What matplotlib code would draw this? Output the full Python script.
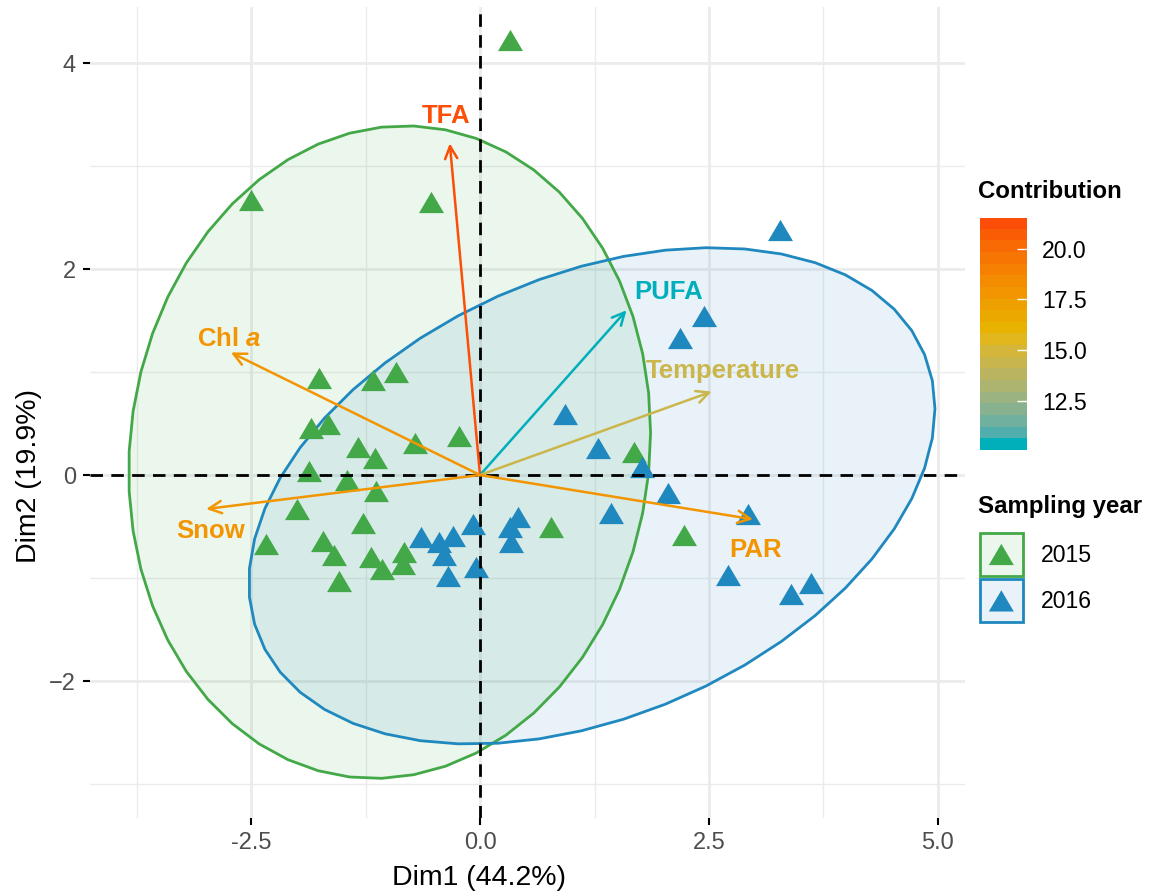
import numpy as np
import matplotlib
matplotlib.use("Agg")
import matplotlib.pyplot as plt
from matplotlib.colors import ListedColormap, Normalize, to_rgb, to_rgba
from matplotlib.patches import Polygon, Patch
from matplotlib.legend_handler import HandlerTuple, HandlerPatch
from matplotlib.ticker import FormatStrFormatter

plt.rcParams['font.family'] = ['Liberation Sans', 'DejaVu Sans']
plt.rcParams['mathtext.fontset'] = 'custom'
plt.rcParams['mathtext.it'] = 'Liberation Sans:italic:bold'
plt.rcParams['mathtext.rm'] = 'Liberation Sans:bold'

# individuals (PCA scores), by sampling year
green_x = [0.33, -2.50, -0.53, -1.76, -1.17, -0.92, -1.84, -1.66, -1.33, -1.15,
           -0.71, -0.23, -1.87, -1.45, -1.14, -2.00, -1.28, -2.34, -1.71, -1.59,
           -1.54, -1.19, -1.07, -0.83, -0.84, 1.68, 0.78, 2.23]
green_y = [4.22, 2.67, 2.65, 0.94, 0.92, 1.00, 0.46, 0.50, 0.27, 0.17,
           0.31, 0.38, 0.04, -0.05, -0.16, -0.33, -0.47, -0.67, -0.64, -0.78,
           -1.03, -0.80, -0.91, -0.75, -0.86, 0.22, -0.50, -0.58]
blue_x = [-0.64, -0.45, -0.29, -0.39, -0.35, -0.08, -0.04, 0.33, 0.41, 0.34, 1.43,
          2.05, 0.93, 1.29, 1.77, 2.93, 2.71, 3.40, 3.61, 2.18, 2.45, 3.28]
blue_y = [-0.60, -0.65, -0.59, -0.78, -0.98, -0.48, -0.89, -0.50, -0.41, -0.65, -0.37,
          -0.17, 0.59, 0.26, 0.08, -0.38, -0.97, -1.16, -1.05, 1.33, 1.54, 2.38]
years = ['2015', '2016']

# variables (arrows) and their contribution
var_names = ['TFA', 'PUFA', 'Temperature', 'PAR', 'Snow', 'Chl $a$']
var_x = [-0.33, 1.60, 2.53, 2.98, -2.99, -2.72]
var_y = [3.22, 1.60, 0.81, -0.43, -0.33, 1.19]
var_contrib = [21.5, 10.1, 14.4, 18.0, 18.0, 18.0]

# label offsets (points) from the arrow tips, as placed by repel
label_off = [(-3, 15), (30, 8), (8, 10), (2, -27), (3, -21), (-1.5, 5)]

grad_cols = ['#00AFBB', '#E7B800', '#FC4E07']


# ggplot interpolates gradients in CIELAB, do the same here
WHITE = np.array([0.95047, 1.0, 1.08883])
M = np.array([[0.4124, 0.3576, 0.1805], [0.2126, 0.7152, 0.0722], [0.0193, 0.1192, 0.9505]])


def to_lab(c):
    rgb = np.array(to_rgb(c))
    lin = np.where(rgb <= 0.04045, rgb / 12.92, ((rgb + 0.055) / 1.055) ** 2.4)
    t = M @ lin / WHITE
    d = 6 / 29
    f = np.where(t > d ** 3, np.cbrt(t), t / (3 * d * d) + 4 / 29)
    return np.array([116 * f[1] - 16, 500 * (f[0] - f[1]), 200 * (f[1] - f[2])])


def from_lab(lab):
    L, a, b = lab
    fy = (L + 16) / 116
    f = np.array([fy + a / 500, fy, fy - b / 200])
    d = 6 / 29
    t = np.where(f > d, f ** 3, 3 * d * d * (f - 4 / 29)) * WHITE
    lin = np.linalg.solve(M, t)
    lin = np.clip(lin, 0, 1)
    rgb = np.where(lin <= 0.0031308, lin * 12.92, 1.055 * lin ** (1 / 2.4) - 0.055)
    return np.clip(rgb, 0, 1)


labs = [to_lab(c) for c in grad_cols]
ramp = []
for t in np.linspace(0, 1, 256):
    seg = min(int(t * 2), 1)
    u = t * 2 - seg
    ramp.append(from_lab(labs[seg] * (1 - u) + labs[seg + 1] * u))
cmap = ListedColormap(ramp)

W, H = 1149, 896
fig = plt.figure(figsize=(W / 100, H / 100), dpi=100)
ax = fig.add_axes([90 / W, (H - 818) / H, 875 / W, 811 / H])

cols = ['#43A847', '#1F88BF']
tri = [(-1, -0.85), (1, -0.85), (0, 0.85), (-1, -0.85)]


def qf2(p, d):
    # quantile of F(2, d), closed form
    return d / 2.0 * ((1 - p) ** (-2.0 / d) - 1)


def norm_ellipse(x, y, level=0.95, segments=51):
    x = np.asarray(x)
    y = np.asarray(y)
    n = len(x)
    center = np.array([x.mean(), y.mean()])
    L = np.linalg.cholesky(np.cov(x, y))
    radius = np.sqrt(2 * qf2(level, n - 1))
    a = np.linspace(0, 2 * np.pi, segments + 1)
    circ = np.column_stack([np.cos(a), np.sin(a)])
    return center + radius * circ @ L.T


for gx, gy, c in [(green_x, green_y, cols[0]), (blue_x, blue_y, cols[1])]:
    pts = norm_ellipse(gx, gy)
    ax.add_patch(Polygon(pts, closed=True, facecolor=c, alpha=0.1, edgecolor='none', zorder=2))
    ax.add_patch(Polygon(pts, closed=True, facecolor='none', edgecolor=c, lw=2, zorder=2.1))
    ax.plot(gx, gy, ls='', marker=tri, ms=18, color=c, mec='none', zorder=3)

ax.axhline(0, color='black', lw=2, ls=(0, (4.5, 3)), zorder=4)
ax.axvline(0, color='black', lw=2, ls=(0, (4.5, 3)), zorder=4)

norm = Normalize(min(var_contrib), max(var_contrib))

for name, vx, vy, ct, off in zip(var_names, var_x, var_y, var_contrib, label_off):
    c = cmap(norm(ct))
    ax.annotate('', xy=(vx, vy), xytext=(0, 0),
                arrowprops=dict(arrowstyle='->,head_length=0.45,head_width=0.22', color=c,
                                lw=1.8, shrinkA=0, shrinkB=0, mutation_scale=20), zorder=5)
    ax.annotate(name, xy=(vx, vy), xytext=off, textcoords='offset points',
                ha='center', va='baseline', fontsize=18.5, fontweight='bold', color=c, zorder=6)

ax.set_xlim(-4.258, 5.295)
ax.set_ylim(-3.33, 4.544)
ax.set_xticks([-2.5, 0, 2.5, 5.0])
ax.set_xticks([-3.75, -1.25, 1.25, 3.75], minor=True)
ax.set_yticks([-2, 0, 2, 4])
ax.set_yticks([-3, -1, 1, 3], minor=True)
ax.xaxis.set_major_formatter(FormatStrFormatter('%.1f'))
ax.grid(which='major', color='#EBEBEB', lw=2, zorder=0)
ax.grid(which='minor', color='#EBEBEB', lw=1, zorder=0)
ax.set_axisbelow(True)
for s in ax.spines.values():
    s.set_visible(False)
ax.tick_params(which='major', length=5, width=1.5, color='black', pad=5,
               labelsize=17, labelcolor='#4D4D4D')
ax.tick_params(which='minor', length=0)

fig.text(479 / W, 1 - 878 / H, 'Dim1 (44.2%)', ha='center', va='center', fontsize=20.5)
fig.text(29 / W, 1 - 476 / H, 'Dim2 (19.9%)', ha='center', va='center', fontsize=20.5, rotation=90)

# colour bar for contribution
cax = fig.add_axes([980 / W, (H - 450) / H, 47 / W, 232 / H])
bins = np.linspace(norm.vmin, norm.vmax, 20)
cax.imshow(bins[::-1].reshape(-1, 1), cmap=cmap, norm=norm, aspect='auto',
           extent=(0, 1, norm.vmin, norm.vmax), interpolation='nearest')
cax.set_xticks([])
cax.set_yticks([12.5, 15.0, 17.5, 20.0])
cax.yaxis.set_major_formatter(FormatStrFormatter('%.1f'))
cax.tick_params(axis='y', direction='in', length=7, width=1, color='white',
                left=False, right=True, labelleft=False, labelright=True,
                labelsize=16.6, labelcolor='black', pad=11)
for s in cax.spines.values():
    s.set_visible(False)
fig.text(978 / W, 1 - 192 / H, 'Contribution', ha='left', va='center', fontsize=17.3, fontweight='bold')


# legend for sampling year: filled key box with a centred triangle
def tri_key(legend, orig_handle, xdescent, ydescent, width, height, fontsize):
    cx = width / 2 - xdescent
    cy = height / 2 - ydescent
    return Polygon([(cx - 9, cy - 7.65), (cx + 9, cy - 7.65), (cx, cy + 7.65)], closed=True)


handles = []
hmap = {tuple: HandlerTuple(ndivide=1, pad=0)}
for c in cols:
    box = Patch(facecolor=to_rgba(c, 0.1), edgecolor=c, lw=2)
    mk = Patch(facecolor=c, edgecolor='none')
    hmap[mk] = HandlerPatch(patch_func=tri_key)
    handles.append((box, mk))
fig.text(978 / W, 1 - 506 / H, 'Sampling year', ha='left', va='center', fontsize=17.3, fontweight='bold')
leg = fig.legend(handles, years, handler_map=hmap, loc='upper left',
                 bbox_to_anchor=(980 / W, 1 - 533 / H), frameon=False,
                 fontsize=16.6, handlelength=1.85, handleheight=2.49,
                 labelspacing=0.15, handletextpad=0.8, borderpad=0, borderaxespad=0)

fig.savefig('out.png', dpi=100)
